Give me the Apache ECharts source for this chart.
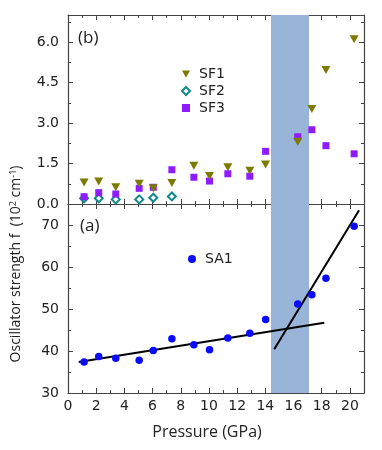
<!DOCTYPE html>
<html><head><meta charset="utf-8">
<script src="https://cdn.jsdelivr.net/npm/echarts@6/dist/echarts.min.js"></script>
<style>html,body{margin:0;padding:0;background:#fff}#c{width:382px;height:450px}</style>
</head><body><div id="c"></div>
<script>
// Pressures (GPa)
const pSF = [1.14, 2.18, 3.39, 5.05, 6.05, 7.37, 8.93, 10.04, 11.34, 12.9, 14.02, 16.3, 17.3, 18.3, 20.3];
const sf1 = [0.80, 0.83, 0.62, 0.75, 0.58, 0.78, 1.42, 1.04, 1.36, 1.23, 1.46, 2.31, 3.52, 4.96, 6.10];
const sf3 = [0.27, 0.42, 0.37, 0.58, 0.62, 1.27, 0.99, 0.85, 1.12, 1.03, 1.95, 2.49, 2.75, 2.16, 1.86];
const pSF2 = [1.14, 2.18, 3.39, 5.05, 6.05, 7.37];
const sf2 = [0.21, 0.21, 0.17, 0.17, 0.23, 0.28];
const pSA = [1.14, 2.18, 3.39, 5.05, 6.05, 7.37, 8.93, 10.04, 11.34, 12.9, 14.02, 16.3, 17.3, 18.3, 20.3];
const sa1 = [37.4, 38.7, 38.3, 37.8, 40.1, 42.9, 41.5, 40.3, 43.1, 44.2, 47.5, 51.2, 53.4, 57.3, 69.7];
const fitLowX = [0.76, 18.18];
const fitLowY = [37.4, 46.7];
const fitHighX = [14.63, 20.65];
const fitHighY = [40.4, 73.5];
const band = [14.4, 17.1];
const xTicks = [0, 2, 4, 6, 8, 10, 12, 14, 16, 18, 20];
const yTopTicks = [0.0, 1.5, 3.0, 4.5, 6.0];
const yBotTicks = [30, 40, 50, 60, 70];

const zip = (a, b) => a.map((v, i) => [v, b[i]]);
const axCol = '#444';
const txtCol = '#222';
const tickFont = 'DejaVu Sans';

function xAx(grid, pos, labels) {
  return {
    type: 'value', gridIndex: grid, position: pos, min: 0, max: 21, interval: 2,
    axisLine: {show: true, onZero: false, lineStyle: {color: axCol, width: 1.2}},
    axisTick: {show: true, inside: true, length: 5, lineStyle: {color: axCol}},
    minorTick: {show: true, splitNumber: 2, length: 3, lineStyle: {color: axCol}},
    axisLabel: {show: labels, color: txtCol, fontFamily: tickFont, fontSize: 14, margin: 6,
      formatter: v => xTicks.includes(v) ? String(v) : '', showMaxLabel: false},
    splitLine: {show: false}, minorSplitLine: {show: false}
  };
}
function yAx(grid, pos, min, max, interval, labels, fmt) {
  return {
    type: 'value', gridIndex: grid, position: pos, min, max, interval,
    axisLine: {show: true, onZero: false, lineStyle: {color: axCol, width: 1.2}},
    axisTick: {show: true, inside: true, length: 5, lineStyle: {color: axCol}},
    minorTick: {show: true, splitNumber: 2, length: 3, lineStyle: {color: axCol}},
    axisLabel: {show: labels, color: txtCol, fontFamily: tickFont, fontSize: 14, margin: 9,
      formatter: fmt, showMaxLabel: false},
    splitLine: {show: false}, minorSplitLine: {show: false}
  };
}

const chart = echarts.init(document.getElementById('c'), null, {renderer: 'canvas'});
const invTri = 'path://M0,0 L10,0 L5,9 Z';
const legText = {fontFamily: tickFont, fontSize: 14, color: txtCol, padding: [0, 0, 0, 4]};
chart.setOption({
  animation: false,
  grid: [
    {left: 68, top: 15, width: 296, height: 189},
    {left: 68, top: 204, width: 296, height: 189}
  ],
  xAxis: [xAx(0, 'bottom', false), xAx(0, 'top', false), xAx(1, 'bottom', true), xAx(1, 'top', false)],
  yAxis: [
    yAx(0, 'left', 0, 7, 1.5, true, v => yTopTicks.includes(v) ? v.toFixed(1) : ''),
    yAx(0, 'right', 0, 7, 1.5, false),
    yAx(1, 'left', 30, 75, 10, true, v => yBotTicks.includes(v) ? String(v) : ''),
    yAx(1, 'right', 30, 75, 10, false)
  ],
  legend: [
    {left: 176, top: 62, orient: 'vertical', itemGap: 3, itemWidth: 8, itemHeight: 8,
      textStyle: legText,
      data: [{name: 'SF1', icon: invTri}, {name: 'SF2', icon: 'emptyDiamond'}, {name: 'SF3', icon: 'rect'}]},
    {left: 183, top: 247, itemWidth: 8, itemHeight: 8,
      textStyle: legText,
      data: [{name: 'SA1', icon: 'circle'}]}
  ],
  graphic: [
    {type: 'text', left: 78, top: 30, style: {text: '(b)', font: '17px "Open Sans"', fill: '#222'}},
    {type: 'text', left: 80, top: 218, style: {text: '(a)', font: '17px "Open Sans"', fill: '#222'}},
    {type: 'text', x: 207, y: 432, style: {text: 'Pressure (GPa)', font: '16px "Open Sans"', fill: '#222', align: 'center', verticalAlign: 'middle'}},
    {type: 'text', x: 16, y: 264, rotation: Math.PI / 2,
      style: {rich: {n: {font: '14px "Open Sans"', fill: '#222'}, s: {font: '9px "Open Sans"', fill: '#222', verticalAlign: 'top', padding: [0,0,6,0]}},
        text: '{n|Oscillator strength f  (10}{s|2}{n| cm}{s|-1}{n|)}',
        align: 'center', verticalAlign: 'middle'}}
  ],
  series: [
    {type: 'scatter', xAxisIndex: 0, yAxisIndex: 0, name: 'band0', data: [],
      markArea: {silent: true, itemStyle: {color: '#98b4d8', opacity: 1}, data: [[{xAxis: band[0]}, {xAxis: band[1]}]]}},
    {type: 'scatter', xAxisIndex: 2, yAxisIndex: 2, name: 'band1', data: [],
      markArea: {silent: true, itemStyle: {color: '#98b4d8', opacity: 1}, data: [[{xAxis: band[0]}, {xAxis: band[1]}]]}},
    {type: 'scatter', name: 'SF2', xAxisIndex: 0, yAxisIndex: 0, symbol: 'emptyDiamond', symbolSize: 8,
      itemStyle: {color: '#0f8a8a', borderWidth: 1.5, opacity: 1}, data: zip(pSF2, sf2), z: 3},
    {type: 'scatter', name: 'SF3', xAxisIndex: 0, yAxisIndex: 0, symbol: 'rect', symbolSize: 7,
      itemStyle: {color: '#8f1cff', opacity: 1}, data: zip(pSF, sf3), z: 4},
    {type: 'scatter', name: 'SF1', xAxisIndex: 0, yAxisIndex: 0, symbol: invTri, symbolSize: [9, 8],
      itemStyle: {color: '#7c7a00', opacity: 1}, data: zip(pSF, sf1), z: 5},
    {type: 'line', name: 'fitLow', xAxisIndex: 2, yAxisIndex: 2, symbol: 'none',
      lineStyle: {color: '#000', width: 2}, data: zip(fitLowX, fitLowY), z: 3},
    {type: 'line', name: 'fitHigh', xAxisIndex: 2, yAxisIndex: 2, symbol: 'none',
      lineStyle: {color: '#000', width: 2}, data: zip(fitHighX, fitHighY), z: 3},
    {type: 'scatter', name: 'SA1', xAxisIndex: 2, yAxisIndex: 2, symbol: 'circle', symbolSize: 7.5,
      itemStyle: {color: '#0a0aff', opacity: 1}, data: zip(pSA, sa1), z: 5}
  ]
});
</script></body></html>
